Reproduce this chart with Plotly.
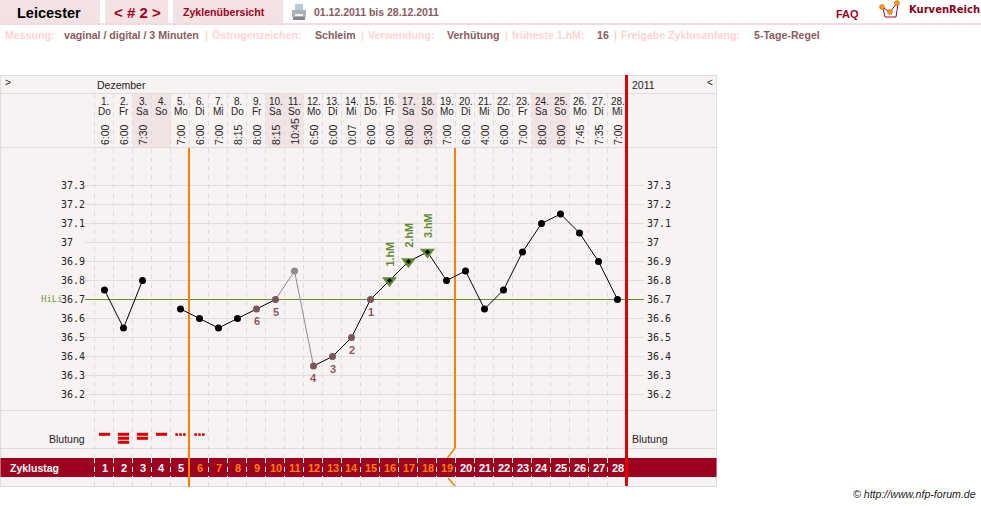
import plotly.graph_objects as go

W, H = 981, 506
DAY_W, T_W = 19.0, 190.0
X0, Y0 = 104.5, 299.5

days = list(range(1, 29))
dates = [f"{d}." for d in days]
weekdays = ["Do","Fr","Sa","So","Mo","Di","Mi","Do","Fr","Sa","So","Mo","Di","Mi","Do","Fr","Sa","So","Mo","Di","Mi","Do","Fr","Sa","So","Mo","Di","Mi"]
times = ["6:00","6:00","7:30","","7:00","6:00","7:00","8:15","8:00","8:15","10:45","6:50","6:00","0:07","6:00","6:00","8:00","9:30","7:00","6:00","4:00","6:00","7:00","8:00","8:00","7:45","7:35","7:00"]
temps = [36.75,36.55,36.8,None,36.65,36.6,36.55,36.6,36.65,36.7,36.85,36.35,36.4,36.5,36.7,36.8,36.9,36.95,36.8,36.85,36.65,36.75,36.95,37.1,37.15,37.05,36.9,36.7]
y_ticks = [37.3,37.2,37.1,37.0,36.9,36.8,36.7,36.6,36.5,36.4,36.3,36.2]
y_labels = ["37.3","37.2","37.1","37","36.9","36.8","36.7","36.6","36.5","36.4","36.3","36.2"]
weekend_days = [3,4,10,11,17,18,24,25]
low_days = [15,14,13,12,10,9]
low_labels = ["1","2","3","4","5","6"]
excluded_day = 11
high_days = [16,17,18]
high_labels = ["1.hM","2.hM","3.hM"]
coverline = 36.7
bleed_bar_days = [1,2,3,4]
bleed_bar_counts = [1,3,2,1]
bleed_dot_days = [5,6]
fertile_start_day, fertile_end_day = 5, 19

ROSE, GRID, BG = "#f3e2e4", "#dddddd", "#f8f3f3"
WINE, MAUVE, PINK = "#a00020", "#8a5a62", "#fcd4d4"
GREEN, ORANGE, RED = "#5f8c32", "#ff8000", "#dd0000"
SANS = "Liberation Sans"
MONO = "DejaVu Sans Mono"

def px(x): return x / W
def py(y): return 1 - y / H

shapes, notes = [], []

def rect(x0, y0, x1, y1, color, xref="paper"):
    a, b = (x0, x1) if xref == "x" else (px(x0), px(x1))
    shapes.append(dict(type="rect", xref=xref, yref="paper", x0=a, x1=b, y0=py(y0), y1=py(y1),
                       fillcolor=color, line=dict(width=0), layer="below"))

def seg(x0, y0, x1, y1, color, width=1, dash=None, xref="paper", yref="paper"):
    a, b = (x0, x1) if xref == "x" else (px(x0), px(x1))
    c, d = (y0, y1) if yref == "y" else (py(y0), py(y1))
    shapes.append(dict(type="line", xref=xref, yref=yref, x0=a, x1=b, y0=c, y1=d,
                       line=dict(color=color, width=width, dash=dash), layer="below"))

def text(t, x, y, size=10.5, color="#000", bold=False, anchor="left", family=SANS, italic=False):
    s = f"<b>{t}</b>" if bold else t
    if italic: s = f"<i>{s}</i>"
    notes.append(dict(text=s, xref="paper", yref="paper", x=px(x), y=py(y), xanchor=anchor, yanchor="middle",
                      showarrow=False, borderpad=0, font=dict(family=family, size=size, color=color)))

def day_text(t, d, y, size, color):
    notes.append(dict(text=t, xref="x", yref="paper", x=d, y=py(y), xanchor="center", yanchor="middle",
                      showarrow=False, borderpad=0, font=dict(family=SANS, size=size, color=color)))

# top tabs
rect(0, 0, 100, 23, ROSE)
rect(105, 0, 168, 23, ROSE)
rect(173, 0, 283, 23, ROSE)
rect(0, 23, W, 25, "#f3dcdf")
text("Leicester", 16, 13, 14.5, "#000", True)
text("&lt; # 2 &gt;", 137.5, 13, 15, WINE, True, "center")
text("Zyklenübersicht", 182, 12, 10.6, WINE, True)
text("01.12.2011 bis 28.12.2011", 313, 12, 10.5, MAUVE, True)
text("FAQ", 835, 14, 11, WINE, True)
text("KurvenReich", 907.5, 10, 10, "#8a0020", True, family="DejaVu Sans")

# printer icon
rect(295, 4, 303, 10, "#b4cde0")
rect(292, 10, 306, 17, "#aab0b5")
rect(293, 17, 305, 20, "#7f878d")
rect(295, 14, 303, 16, "#f2f2f2")

# logo
shapes.append(dict(type="path", xref="paper", yref="paper", layer="below",
    path=f"M {px(883)},{py(8)} L {px(885)},{py(17)} L {px(896)},{py(17)} L {px(898)},{py(4)}",
    line=dict(color="#a00040", width=1)))
shapes.append(dict(type="path", xref="paper", yref="paper", layer="below",
    path=f"M {px(882)},{py(7)} L {px(890)},{py(12)} L {px(897)},{py(3)}",
    line=dict(color="#a00020", width=1)))
for cx, cy in [(882, 7), (890, 12), (897, 3)]:
    shapes.append(dict(type="circle", xref="paper", yref="paper", x0=px(cx-2.5), x1=px(cx+2.5),
                       y0=py(cy-2.5), y1=py(cy+2.5), fillcolor="#f39a10", line=dict(color="#c06010", width=0.5), layer="below"))

# settings row
for t, x, c in [("Messung:",4,PINK),("vaginal / digital / 3 Minuten",63,MAUVE),("|",204,PINK),
                ("Östrogenzeichen:",211,PINK),("Schleim",314,MAUVE),("|",360,PINK),
                ("Verwendung:",367,PINK),("Verhütung",446,MAUVE),("|",504,PINK),
                ("früheste 1.hM:",511,PINK),("16",596,MAUVE),("|",613,PINK),
                ("Freigabe Zyklusanfang:",620,PINK),("5-Tage-Regel",753,MAUVE)]:
    text(t, x, 35, 10.6, c, True)

# chart box
rect(0.5, 75, 716.5, 486.5, BG)
nudge = 0.5 / DAY_W
for d in weekend_days:
    rect(d-0.5-nudge, 94, d+0.5-nudge, 147, "#f2e3e5", xref="x")
for y in [75.5, 93.5, 147.5, 410.5, 448.5, 486.5]:
    seg(0, y, 717, y, GRID, 1)
seg(0.5, 75, 0.5, 487, GRID, 1)
seg(716.5, 75, 716.5, 487, GRID, 1)

# column separators
for d in days:
    seg(d-0.5-nudge, 94, d-0.5-nudge, 486, GRID, 1, "5px,4px", xref="x")

# temperature grid
x_left, x_right = 85, 644
for v in y_ticks:
    seg(x_left, v, x_right, v, GRID, 1, yref="y")
seg(x_left, coverline, x_right, coverline, GREEN, 1, yref="y")

# cycle day bar
rect(0.5, 458, 716.5, 477, "#9e0020")
for d in days:
    seg(d-0.5-nudge, 458, d-0.5-nudge, 477, "#ffffff", 1, "5px,4px", xref="x")

# fertile window markers
fx0 = fertile_start_day + 0.5 - 2*nudge
fx1 = fertile_end_day + 0.5 - 2*nudge
seg(fx0, 148, fx0, 487, ORANGE, 2, xref="x")
seg(fx1, 148, fx1, 448, ORANGE, 2, xref="x")
seg(fx1, 448, fx1-0.4, 458, ORANGE, 1.5, xref="x")
seg(fx1-0.37, 478, fx1, 486, ORANGE, 1.5, xref="x")
# cycle end
seg(626.5, 75, 626.5, 486, RED, 3)

# header labels
text("&gt;", 4, 83, 10, "#222")
text("Dezember", 96, 85, 10.5, "#222")
text("2011", 631, 85, 10.5, "#222")
text("&lt;", 706, 83, 10, "#222")
for d, a, b, t in zip(days, dates, weekdays, times):
    day_text(a, d, 101.5, 10, "#222")
    day_text(b, d, 111, 10, "#222")
    if t:
        notes.append(dict(text=t, xref="x", yref="paper", x=d, y=py(146), xanchor="center", yanchor="bottom",
                          textangle=-90, showarrow=False, borderpad=0, font=dict(family=SANS, size=10.5, color="#222")))
    col = ORANGE if fertile_start_day < d <= fertile_end_day else "#ffffff"
    day_text(f"<b>{d}</b>", d, 467.5, 11, col)

# side labels
for v, lab in zip(y_ticks, y_labels):
    for xp in (59.5, 646):
        notes.append(dict(text=lab, xref="paper", yref="y", x=px(xp), y=v, xanchor="left", yanchor="middle",
                          showarrow=False, borderpad=0, font=dict(family=MONO, size=10, color="#222")))
text("HiLi", 40, 298.5, 9, "#6f9a48", family=MONO)
text("Blutung", 86, 439, 10.5, "#222", anchor="right")
text("Blutung", 631, 439, 10.5, "#222")
text("Zyklustag", 9, 467.5, 10.5, "#ffffff", True)
text("© http://www.nfp-forum.de", 977, 494, 10.6, "#222", anchor="right", italic=True)

# low-temperature and high-temperature labels
for d, lab in zip(low_days, low_labels):
    notes.append(dict(text=f"<b>{lab}</b>", xref="x", yref="y", x=d, y=temps[d-1], yshift=-12, xanchor="center",
                      yanchor="middle", showarrow=False, borderpad=0, font=dict(family=SANS, size=11, color=MAUVE)))
for d, lab in zip(high_days, high_labels):
    notes.append(dict(text=f"<b>{lab}</b>", xref="x", yref="y", x=d, y=temps[d-1], yshift=13, xanchor="center",
                      yanchor="bottom", textangle=-90, showarrow=False, borderpad=0,
                      font=dict(family=SANS, size=10.8, color=GREEN)))

fig = go.Figure()
# curve segments: grey around the excluded reading, black elsewhere
black_y = [None if t is None or d == excluded_day else t for d, t in zip(days, temps)]
grey_days = [excluded_day-1, excluded_day, excluded_day+1]
fig.add_trace(go.Scatter(x=days, y=black_y, mode="lines", line=dict(color="#000", width=1), connectgaps=False))
fig.add_trace(go.Scatter(x=grey_days, y=[temps[d-1] for d in grey_days], mode="lines", line=dict(color="#8c8c8c", width=1)))
# markers
black_days = [d for d, t in zip(days, temps) if t is not None and d not in low_days + high_days + [excluded_day]]
fig.add_trace(go.Scatter(x=black_days, y=[temps[d-1] for d in black_days], mode="markers",
                         marker=dict(color="#000", size=7)))
fig.add_trace(go.Scatter(x=low_days, y=[temps[d-1] for d in low_days], mode="markers",
                         marker=dict(color="#7c545c", size=7)))
fig.add_trace(go.Scatter(x=[excluded_day], y=[temps[excluded_day-1]], mode="markers",
                         marker=dict(color="#8c8c8c", size=7)))
fig.add_trace(go.Scatter(x=high_days, y=[temps[d-1] for d in high_days], mode="markers",
                         marker=dict(color=GREEN, size=13, symbol="triangle-down")))
fig.add_trace(go.Scatter(x=high_days, y=[temps[d-1] for d in high_days], mode="markers",
                         marker=dict(color="#000", size=4, symbol="diamond")))

# bleeding row, on a row-scale axis measured in pixels from the top
bar_x, bar_y = [], []
for d, n in zip(bleed_bar_days, bleed_bar_counts):
    for i in range(n):
        bar_x.append(d)
        bar_y.append(434.3 + i * 4)
fig.add_trace(go.Scatter(x=bar_x, y=bar_y, yaxis="y2", mode="markers",
                         marker=dict(symbol="line-ew", size=8, line=dict(color="#dd0000", width=3))))
dot_x, dot_y = [], []
for d in bleed_dot_days:
    for off in (-0.2, 0, 0.2):
        dot_x.append(d + off)
        dot_y.append(434.5)
fig.add_trace(go.Scatter(x=dot_x, y=dot_y, yaxis="y2", mode="markers",
                         marker=dict(color="#dd0000", size=3)))

fig.update_layout(
    width=W, height=H, margin=dict(l=0, r=0, t=0, b=0, pad=0), showlegend=False,
    paper_bgcolor="#ffffff", plot_bgcolor="rgba(0,0,0,0)", hovermode=False,
    xaxis=dict(visible=False, range=[1 - X0/DAY_W, 1 + (W-X0)/DAY_W], domain=[0, 1], fixedrange=True),
    yaxis=dict(visible=False, range=[coverline - (H-Y0)/T_W, coverline + Y0/T_W], domain=[0, 1], fixedrange=True),
    yaxis2=dict(visible=False, range=[H, 0], overlaying="y", fixedrange=True),
    shapes=shapes, annotations=notes,
)
fig.write_html("out.html", config=dict(displayModeBar=False),
               post_script="document.body.style.margin='0';")
